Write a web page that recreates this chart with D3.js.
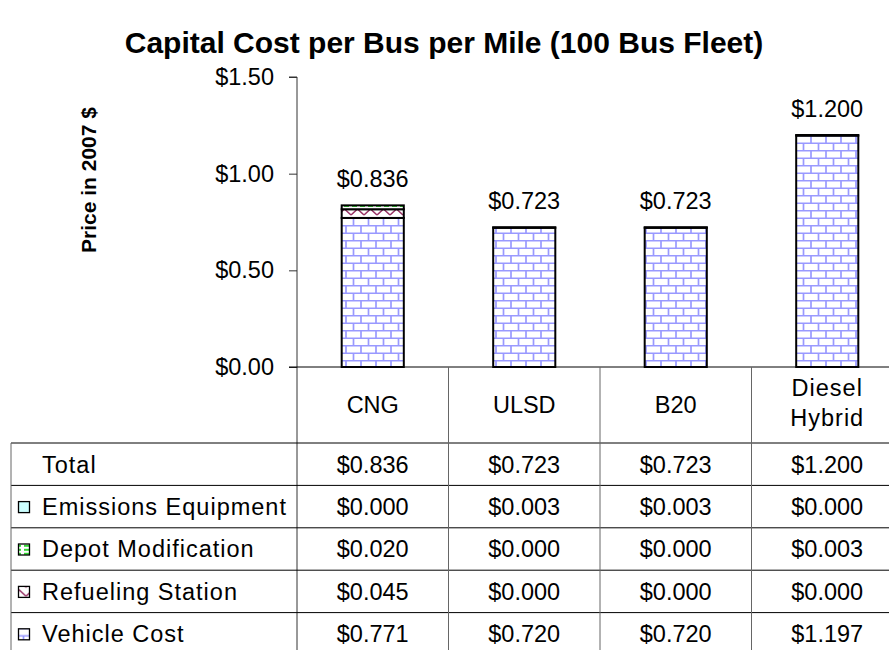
<!DOCTYPE html>
<html>
<head>
<meta charset="utf-8">
<script src="https://cdn.jsdelivr.net/npm/d3@7"></script>
<style>
  body { margin: 0; background: #fff; }
  svg text { font-family: "Liberation Sans", Arial, sans-serif; fill: #000; }
</style>
</head>
<body>
<svg id="chart" width="889" height="650"></svg>
<script>
// data
var categories = ["CNG", "ULSD", "B20", "Diesel Hybrid"];
var vehicleCost = [0.771, 0.720, 0.720, 1.197];
var refuelingStation = [0.045, 0.000, 0.000, 0.000];
var depotModification = [0.020, 0.000, 0.000, 0.003];
var emissionsEquipment = [0.000, 0.003, 0.003, 0.000];
var totals = [0.836, 0.723, 0.723, 1.200];
var yTicks = [0, 0.5, 1.0, 1.5];
var seriesNames = ["Vehicle Cost", "Refueling Station", "Depot Modification", "Emissions Equipment"];

var width = 889, height = 650;
var plotLeft = 297, plotRight = 903, plotTop = 77, plotBottom = 367;
var tableLeft = 11, rowH = 42.4;
var headerBottom = 443;
var fs = "23.5px";

var svg = d3.select("#chart");
var defs = svg.append("defs");

// brick pattern for vehicle cost
var brick = defs.append("pattern").attr("id", "brick")
    .attr("patternUnits", "userSpaceOnUse").attr("width", 15).attr("height", 15);
brick.append("rect").attr("width", 15).attr("height", 15).attr("fill", "#fff");
brick.append("path")
    .attr("d", "M0,0.75H15M0,8.25H15M1,0.75V8.25M8.5,8.25V15")
    .attr("stroke", "#9999ff").attr("stroke-width", 1.7).attr("fill", "none");

// zigzag pattern for refueling station
var zig = defs.append("pattern").attr("id", "zig")
    .attr("patternUnits", "userSpaceOnUse").attr("width", 13).attr("height", 9);
zig.append("rect").attr("width", 13).attr("height", 9).attr("fill", "#fff");
zig.append("path").attr("d", "M0,8L6.5,2L13,8")
    .attr("stroke", "#993366").attr("stroke-width", 1.6).attr("fill", "none");

// dashed green pattern for depot modification
var dash = defs.append("pattern").attr("id", "dash")
    .attr("patternUnits", "userSpaceOnUse").attr("width", 8).attr("height", 4);
dash.append("rect").attr("width", 8).attr("height", 4).attr("fill", "#fff");
dash.append("path").attr("d", "M0,2H5")
    .attr("stroke", "#00cc00").attr("stroke-width", 1.6);

var fills = {
  "Vehicle Cost": "url(#brick)",
  "Refueling Station": "url(#zig)",
  "Depot Modification": "url(#dash)",
  "Emissions Equipment": "#ccffff"
};

var rows = categories.map(function(c, i) {
  return {
    cat: c,
    "Vehicle Cost": vehicleCost[i],
    "Refueling Station": refuelingStation[i],
    "Depot Modification": depotModification[i],
    "Emissions Equipment": emissionsEquipment[i]
  };
});

var x = d3.scaleBand().domain(categories).range([plotLeft, plotRight])
    .paddingInner(0.59).paddingOuter(0.295);
var xCol = d3.scaleBand().domain(categories).range([plotLeft, plotRight]);
var y = d3.scaleLinear().domain([0, 1.5]).range([plotBottom, plotTop]);

// title
svg.append("text")
    .attr("x", 444).attr("y", 53)
    .attr("text-anchor", "middle")
    .style("font-size", "30px").style("font-weight", "bold")
    .text("Capital Cost per Bus per Mile (100 Bus Fleet)");

// y axis title
svg.append("text")
    .attr("transform", "translate(96,180) rotate(-90)")
    .attr("text-anchor", "middle")
    .style("font-size", "21px").style("font-weight", "bold")
    .text("Price in 2007 $");

// stacked bars
var stack = d3.stack().keys(seriesNames);
var layers = stack(rows);

svg.append("g").selectAll("g")
    .data(layers)
    .enter().append("g")
    .attr("fill", function(d) { return fills[d.key]; })
    .selectAll("rect")
    .data(function(d) { return d; })
    .enter().append("rect")
    .filter(function(d) { return d[1] - d[0] > 0; })
    .attr("x", function(d) { return x(d.data.cat); })
    .attr("width", x.bandwidth())
    .attr("y", function(d) { return y(d[1]); })
    .attr("height", function(d) { return y(d[0]) - y(d[1]); })
    .attr("stroke", "#000").attr("stroke-width", 2);

// value labels
svg.append("g").selectAll("text")
    .data(totals)
    .enter().append("text")
    .attr("x", function(d, i) { return x(categories[i]) + x.bandwidth() / 2; })
    .attr("y", function(d) { return y(d) - 18; })
    .attr("text-anchor", "middle")
    .style("font-size", fs)
    .text(function(d) { return "$" + d.toFixed(3); });

// y axis
var yAxis = svg.append("g")
    .attr("transform", "translate(" + plotLeft + ",0)")
    .call(d3.axisLeft(y).tickValues(yTicks).tickSize(8).tickPadding(15)
      .tickFormat(function(d) { return "$" + d.toFixed(2); }));
yAxis.select(".domain").attr("d", "M-8," + plotTop + "H0V" + height).attr("stroke", "#333");
yAxis.selectAll(".tick line").attr("stroke", "#333");
yAxis.selectAll(".tick text").style("font-size", fs)
    .style("font-family", "'Liberation Sans', Arial, sans-serif");

// data table
var tableRows = [
  { name: "Total", vals: totals, key: null },
  { name: "Emissions Equipment", vals: emissionsEquipment, key: "Emissions Equipment" },
  { name: "Depot Modification", vals: depotModification, key: "Depot Modification" },
  { name: "Refueling Station", vals: refuelingStation, key: "Refueling Station" },
  { name: "Vehicle Cost", vals: vehicleCost, key: "Vehicle Cost" }
];

var grid = svg.append("g");
// baseline of plot
grid.append("line")
    .attr("x1", plotLeft - 8).attr("x2", width)
    .attr("y1", plotBottom).attr("y2", plotBottom)
    .attr("stroke", "#000");
// horizontal row lines
tableRows.forEach(function(r, i) {
  grid.append("line")
      .attr("x1", tableLeft).attr("x2", width)
      .attr("y1", headerBottom + i * rowH).attr("y2", headerBottom + i * rowH)
      .attr("stroke", "#000");
});
// vertical lines
grid.append("line")
    .attr("x1", tableLeft).attr("x2", tableLeft)
    .attr("y1", headerBottom).attr("y2", height)
    .attr("stroke", "#666");
categories.slice(1).forEach(function(c) {
  grid.append("line")
      .attr("x1", xCol(c)).attr("x2", xCol(c))
      .attr("y1", plotBottom).attr("y2", height)
      .attr("stroke", "#666");
});

// category header labels
svg.append("g").selectAll("text")
    .data(categories)
    .enter().append("text")
    .attr("text-anchor", "middle")
    .style("font-size", fs)
    .each(function(d) {
      var cx = xCol(d) + xCol.bandwidth() / 2;
      var parts = d === "Diesel Hybrid" ? ["Diesel", "Hybrid"] : [d];
      var t = d3.select(this);
      var y0 = (plotBottom + headerBottom) / 2 + 8 - (parts.length - 1) * 17;
      parts.forEach(function(p, k) {
        t.append("tspan").attr("x", cx).attr("y", y0 + k * 30)
            .style("letter-spacing", parts.length > 1 ? "1px" : null).text(p);
      });
    });

// row labels with legend keys and values
var rowG = svg.append("g").selectAll("g")
    .data(tableRows)
    .enter().append("g")
    .attr("transform", function(d, i) { return "translate(0," + (headerBottom + i * rowH) + ")"; });

rowG.filter(function(d) { return d.key; })
    .append("rect")
    .attr("x", 18.5).attr("y", rowH / 2 - 5)
    .attr("width", 11).attr("height", 11)
    .attr("fill", function(d) { return fills[d.key]; })
    .attr("stroke", "#000").attr("stroke-width", 1.3);

rowG.append("text")
    .attr("x", 42)
    .attr("y", rowH / 2 + 8.5)
    .style("font-size", fs)
    .style("letter-spacing", "1px")
    .text(function(d) { return d.name; });

rowG.each(function(r) {
  d3.select(this).selectAll("text.val")
      .data(r.vals)
      .enter().append("text")
      .attr("class", "val")
      .attr("x", function(d, i) { return xCol(categories[i]) + xCol.bandwidth() / 2; })
      .attr("y", rowH / 2 + 8.5)
      .attr("text-anchor", "middle")
      .style("font-size", fs)
      .text(function(d) { return "$" + d.toFixed(3); });
});
</script>
</body>
</html>
